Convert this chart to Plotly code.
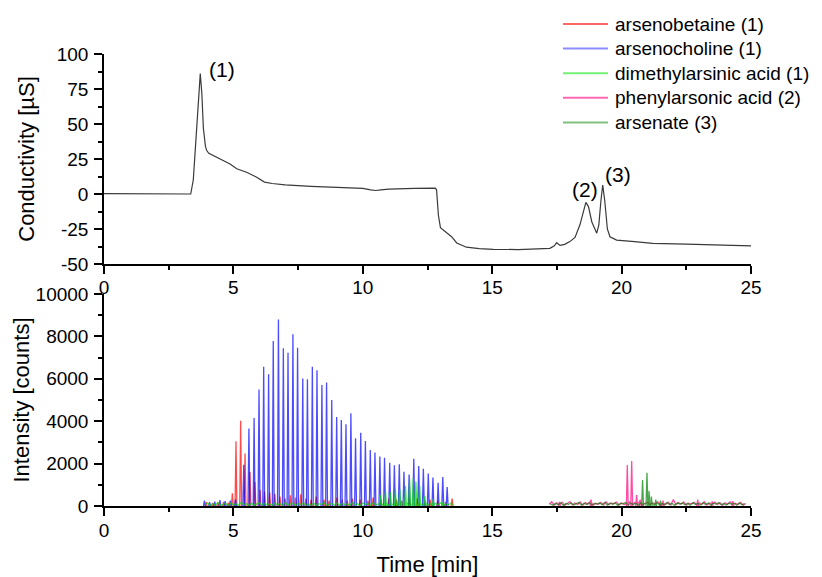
import plotly.graph_objects as go

# ---------------- Conductivity trace (top panel) ----------------
cond_t = [0, 1.0, 2.0, 3.0, 3.35, 3.45, 3.52, 3.58, 3.65, 3.72,
          3.78, 3.84, 3.92, 3.97, 4.05, 4.35, 4.87, 5.13, 5.51, 5.9,
          6.05, 6.2, 6.5, 7.0, 8.0, 9.0, 10.0, 10.3, 10.5, 10.7,
          11.0, 12.0, 12.8, 12.85, 12.92, 13.0, 13.2, 13.43, 13.63, 14.0,
          14.5, 15.04, 16.0, 17.23, 17.4, 17.49, 17.62, 17.8, 18.0, 18.2,
          18.39, 18.52, 18.62, 18.72, 18.85, 19.04, 19.12, 19.2, 19.27, 19.35,
          19.45, 19.55, 19.81, 20.5, 21.2, 22.5, 24.0, 25.0]
cond_v = [0.3, 0.1, 0, -0.2, 0, 10, 30, 48, 72, 86,
          72, 47, 34, 31, 29, 26.3, 21.5, 18, 15.5, 12,
          10, 8.5, 7.5, 6.5, 5.5, 5, 4, 3, 2.5, 3,
          3.5, 4, 4.2, 3, -15, -24, -27, -30.5, -35, -38,
          -39, -39.5, -39.7, -38.8, -37, -34.8, -36.7, -36, -34, -31,
          -22, -12, -6, -9, -20, -28, -22, -5, 6.4, -5,
          -25, -30.5, -32.9, -34, -35.2, -35.8, -36.5, -37.1]

peak_labels = ["(1)", "(2)", "(3)"]
peak_label_t = [4.55, 18.59, 19.87]
peak_label_v = [89, 3, 13.6]

# ---------------- ICP-MS traces (bottom panel) ----------------
series_names = ["arsenobetaine (1)", "arsenocholine (1)", "dimethylarsinic acid (1)",
                "phenylarsonic acid (2)", "arsenate (3)"]
series_colors = ["#ff0000", "#0000ff", "#00e000", "#ff0080", "#008000"]
legend_colors = ["rgba(255,0,0,0.6)", "rgba(0,0,255,0.45)", "rgba(0,230,0,0.55)",
                 "rgba(255,0,128,0.6)", "rgba(0,128,0,0.5)"]

# arsenobetaine
ab_peak_t = [3.95, 4.2, 4.4, 4.62, 4.8, 4.96, 5.10, 5.28, 5.45, 5.64,
             5.83, 6.03, 6.2, 6.4, 6.6, 6.8, 7.0, 7.2, 7.4, 7.6,
             7.8, 8.0, 8.2, 8.5, 8.7, 9.0, 9.2, 9.4, 9.6, 9.9,
             10.2, 10.4, 10.7, 11.0, 11.3, 11.5, 11.8, 12.1, 12.4, 12.6,
             12.9, 13.2, 13.45]
ab_peak_h = [180, 150, 170, 200, 160, 600, 3050, 4020, 2480, 1600,
             1130, 760, 680, 630, 580, 450, 350, 500, 400, 550,
             350, 300, 450, 300, 250, 400, 300, 250, 350, 300,
             250, 400, 300, 350, 300, 250, 400, 350, 250, 300,
             250, 200, 350]

# arsenocholine
ac_peak_t = [3.88, 4.08, 4.28, 4.48, 4.68, 4.88, 5.08, 5.40, 5.60, 5.80,
             5.99, 6.17, 6.36, 6.54, 6.74, 6.93, 7.11, 7.30, 7.48, 7.68,
             7.86, 8.05, 8.23, 8.42, 8.60, 8.80, 8.99, 9.17, 9.35, 9.54,
             9.72, 9.92, 10.10, 10.29, 10.47, 10.66, 10.84, 11.04, 11.22, 11.41,
             11.59, 11.79, 11.97, 12.16, 12.34, 12.53, 12.71, 12.91, 13.09, 13.26]
ac_peak_h = [250, 180, 210, 280, 230, 250, 320, 1950, 3650, 4150,
             5500, 6570, 6210, 7780, 8800, 7440, 7230, 8100, 7470, 6020,
             5980, 6570, 6400, 5710, 5820, 5000, 4200, 4060, 3850, 4370,
             3190, 3460, 3070, 2640, 2520, 2330, 2280, 2040, 1920, 1970,
             1620, 1490, 2230, 1890, 1760, 1530, 1340, 1100, 1370, 900]

# dimethylarsinic acid
dma_peak_t = [10.69, 10.88, 11.07, 11.26, 11.43, 11.65, 11.81, 11.95, 12.05, 12.2,
              12.4, 12.72, 13.1]
dma_peak_h = [520, 700, 630, 790, 790, 940, 1260, 1330, 1150, 940,
              470, 315, 200]
dma_noise_t = [3.9, 4.0, 4.1, 4.2, 4.3, 4.4, 4.5, 4.6, 4.7, 4.8,
               4.9, 5.0, 5.1, 5.2, 5.3, 5.4, 5.5, 5.6, 5.7, 5.8,
               5.9, 6.0, 6.1, 6.2, 6.3, 6.4, 6.5, 6.6, 6.7, 6.8,
               6.9, 7.0, 7.1, 7.2, 7.3, 7.4, 7.5, 7.6, 7.7, 7.8,
               7.9, 8.0, 8.1, 8.2, 8.3, 8.4, 8.5, 8.6, 8.7, 8.8,
               8.9, 9.0, 9.1, 9.2, 9.3, 9.4, 9.5, 9.6, 9.7, 9.8,
               9.9, 10.0, 10.1, 10.2, 10.3, 10.4, 10.5, 10.6, 10.7, 10.8,
               10.9, 11.0, 11.1, 11.2, 11.3, 11.4, 11.5, 11.6, 11.7, 11.8,
               11.9, 12.0, 12.1, 12.2, 12.3, 12.4, 12.5, 12.6, 12.7, 12.8,
               12.9, 13.0, 13.1, 13.2, 13.3, 13.4, 13.5]
dma_noise_h = [60, 150, 20, 110, 40, 160, 30, 90, 120, 20,
               140, 50, 100, 30, 170, 60, 110, 20, 130, 40,
               90, 150, 30, 120, 60, 100, 20, 140, 50, 110,
               30, 160, 40, 90, 130, 20, 120, 60, 150, 30,
               100, 40, 140, 20, 110, 70, 160, 30, 90, 120,
               40, 150, 20, 130, 60, 100, 30, 170, 50, 110,
               20, 140, 60, 120, 30, 160, 40, 100, 150, 20,
               130, 50, 110, 30, 170, 60, 120, 40, 150, 20,
               100, 140, 30, 120, 60, 160, 40, 110, 20, 130,
               50, 150, 30, 100, 60, 120, 40]

# phenylarsonic acid
pa_peak_t = [17.6, 18.82, 20.22, 20.39, 20.58, 20.72, 21.6, 22.94, 23.5, 24.3]
pa_peak_h = [200, 300, 1930, 2120, 520, 300, 250, 300, 220, 230]
pa_noise_t = [17.2, 17.3, 17.4, 17.5, 17.6, 17.7, 17.8, 17.9, 18.0, 18.1,
              18.2, 18.3, 18.4, 18.5, 18.6, 18.7, 18.8, 18.9, 19.0, 19.1,
              19.2, 19.3, 19.4, 19.5, 19.6, 19.7, 19.8, 19.9, 20.0, 20.1,
              20.2, 20.3, 20.4, 20.5, 20.6, 20.7, 20.8, 20.9, 21.0, 21.1,
              21.2, 21.3, 21.4, 21.5, 21.6, 21.7, 21.8, 21.9, 22.0, 22.1,
              22.2, 22.3, 22.4, 22.5, 22.6, 22.7, 22.8, 22.9, 23.0, 23.1,
              23.2, 23.3, 23.4, 23.5, 23.6, 23.7, 23.8, 23.9, 24.0, 24.1,
              24.2, 24.3, 24.4, 24.5, 24.6, 24.7, 24.8]
pa_noise_h = [80, 200, 40, 150, 60, 180, 30, 120, 210, 50,
              140, 70, 190, 40, 160, 90, 230, 30, 130, 80,
              170, 50, 200, 60, 140, 100, 180, 40, 150, 70,
              110, 190, 50, 160, 80, 210, 40, 130, 170, 60,
              150, 90, 200, 30, 140, 70, 180, 50, 300, 60,
              160, 80, 190, 40, 130, 100, 170, 50, 150, 70,
              200, 40, 140, 90, 180, 60, 160, 30, 150, 80,
              190, 50, 130, 70, 170, 40, 120]

# arsenate
as_peak_t = [20.81, 20.98, 21.06, 21.15, 21.32, 21.5]
as_peak_h = [1230, 1570, 700, 440, 300, 250]
as_noise_t = [17.25, 17.35, 17.45, 17.55, 17.65, 17.75, 17.85, 17.95, 18.05, 18.15,
              18.25, 18.35, 18.45, 18.55, 18.65, 18.75, 18.85, 18.95, 19.05, 19.15,
              19.25, 19.35, 19.45, 19.55, 19.65, 19.75, 19.85, 19.95, 20.05, 20.15,
              20.25, 20.35, 20.45, 20.55, 20.65, 20.75, 20.85, 20.95, 21.05, 21.15,
              21.25, 21.35, 21.45, 21.55, 21.65, 21.75, 21.85, 21.95, 22.05, 22.15,
              22.25, 22.35, 22.45, 22.55, 22.65, 22.75, 22.85, 22.95, 23.05, 23.15,
              23.25, 23.35, 23.45, 23.55, 23.65, 23.75, 23.85, 23.95, 24.05, 24.15,
              24.25, 24.35, 24.45, 24.55, 24.65, 24.75]
as_noise_h = [100, 40, 130, 60, 150, 30, 120, 80, 140, 50,
              110, 160, 40, 130, 70, 150, 50, 120, 90, 140,
              60, 170, 40, 130, 80, 150, 30, 120, 100, 160,
              50, 140, 70, 130, 40, 150, 90, 120, 60, 170,
              40, 140, 80, 130, 50, 160, 70, 120, 30, 150,
              90, 140, 60, 130, 40, 150, 80, 120, 50, 160,
              70, 140, 40, 130, 90, 150, 60, 120, 50, 140,
              80, 130, 40, 150, 60, 110]

x_ticks = [0, 5, 10, 15, 20, 25]
cond_ticks = [-50, -25, 0, 25, 50, 75, 100]
int_ticks = [0, 2000, 4000, 6000, 8000, 10000]

SPIKE_W = 0.035
FONT = "Liberation Sans, Arial, sans-serif"

# figure geometry (px) used for the hand-placed key
W, H = 822, 577
ML, MR, MT, MB = 104, 71, 54, 71
PW, PH = W - ML - MR, H - MT - MB


def px_to_paper(px, py):
    return (px - ML) / PW, (H - MB - py) / PH


def build_series(noise_t, noise_h, peak_t, peak_h):
    xs, ys = [], []
    if noise_t:
        xs += list(noise_t) + [None]
        ys += list(noise_h) + [None]
    for t, h in zip(peak_t, peak_h):
        xs += [t - SPIKE_W, t, t + SPIKE_W, None]
        ys += [0, h, 0, None]
    return xs, ys


fig = go.Figure()

fig.add_trace(go.Scatter(x=cond_t, y=cond_v, mode="lines",
                         line=dict(color="#3a3a3a", width=1.2),
                         xaxis="x", yaxis="y", showlegend=False,
                         hoverinfo="skip"))

series_data = [
    ([], [], ab_peak_t, ab_peak_h),
    ([], [], ac_peak_t, ac_peak_h),
    (dma_noise_t, dma_noise_h, dma_peak_t, dma_peak_h),
    (pa_noise_t, pa_noise_h, pa_peak_t, pa_peak_h),
    (as_noise_t, as_noise_h, as_peak_t, as_peak_h),
]
for name, color, data in zip(series_names, series_colors, series_data):
    xs, ys = build_series(*data)
    fig.add_trace(go.Scatter(x=xs, y=ys, mode="lines", name=name,
                             line=dict(color=color, width=1.3),
                             opacity=0.7, connectgaps=False, showlegend=False,
                             xaxis="x2", yaxis="y2"))

for lab, t, v in zip(peak_labels, peak_label_t, peak_label_v):
    fig.add_annotation(x=t, y=v, xref="x", yref="y", text=lab,
                       showarrow=False, font=dict(size=21, color="black", family=FONT))

# key (legend) in the upper right corner
for i, (name, lc) in enumerate(zip(series_names, legend_colors)):
    py = 24 + 24.6 * i
    x0, y0 = px_to_paper(563, py)
    x1, _ = px_to_paper(608, py)
    xt, _ = px_to_paper(613, py)
    fig.add_shape(type="line", xref="paper", yref="paper", x0=x0, x1=x1, y0=y0, y1=y0,
                  line=dict(color=lc, width=2))
    fig.add_annotation(x=xt, y=y0, xref="paper", yref="paper", text=name,
                       xanchor="left", yanchor="middle", showarrow=False,
                       font=dict(size=19, color="black", family=FONT))

axis_common = dict(showline=True, linecolor="black", linewidth=1.5,
                   ticks="outside", ticklen=8, tickwidth=1.5, tickcolor="black",
                   showgrid=False, zeroline=False, mirror=False, automargin=False,
                   tickfont=dict(size=19, color="black", family=FONT))

fig.update_layout(
    width=W, height=H,
    margin=dict(l=ML, r=MR, t=MT, b=MB, autoexpand=False),
    paper_bgcolor="white", plot_bgcolor="white",
    font=dict(family=FONT, color="black"),
    showlegend=False,
    xaxis=dict(domain=[0, 1], anchor="y", range=[0, 25], tickvals=x_ticks,
               ticktext=[str(v) for v in x_ticks], ticklabelstandoff=-3,
               minor=dict(dtick=2.5, tick0=0, ticks="outside", ticklen=4,
                          tickwidth=1.5, tickcolor="black"),
               **axis_common),
    yaxis=dict(domain=[0.5354, 1], anchor="x", range=[-50, 100], tickvals=cond_ticks,
               ticktext=[str(v) for v in cond_ticks], ticklabelstandoff=2,
               minor=dict(dtick=12.5, tick0=0, ticks="outside", ticklen=4,
                          tickwidth=1.5, tickcolor="black"),
               title=dict(text="Conductivity [µS]", font=dict(size=22, family=FONT),
                          standoff=16),
               **axis_common),
    xaxis2=dict(domain=[0, 1], anchor="y2", range=[0, 25], tickvals=x_ticks,
                ticktext=[str(v) for v in x_ticks], ticklabelstandoff=-2,
                minor=dict(dtick=2.5, tick0=0, ticks="outside", ticklen=4,
                           tickwidth=1.5, tickcolor="black"),
                title=dict(text="Time [min]", font=dict(size=22, family=FONT),
                           standoff=24),
                **axis_common),
    yaxis2=dict(domain=[0, 0.469], anchor="x2", range=[0, 10000], tickvals=int_ticks,
                ticktext=[str(v) for v in int_ticks], ticklabelstandoff=2,
                minor=dict(dtick=1000, tick0=0, ticks="outside", ticklen=4,
                           tickwidth=1.5, tickcolor="black"),
                title=dict(text="Intensity [counts]", font=dict(size=22, family=FONT),
                           standoff=0),
                **axis_common),
)

fig.write_html("out.html")
